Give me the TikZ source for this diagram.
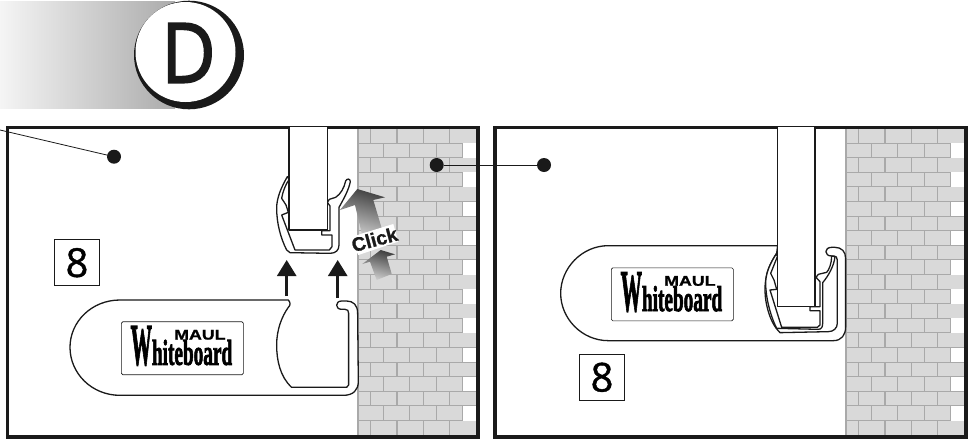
\documentclass[tikz,border=0pt]{standalone}
\usepackage{fontspec}
\usepackage{graphicx}
\setmainfont{Liberation Sans}
\newfontfamily\openf{Open Sans}[RawFeature={embolden=1}]
\newfontfamily\openD{Open Sans}[RawFeature={embolden=2.2}]
\newfontfamily\serifb{Liberation Serif Bold}[RawFeature={embolden=2.5}]
\newfontfamily\sansheavy{Liberation Sans Bold}[RawFeature={embolden=1.2}]
\usetikzlibrary{arrows.meta}
\definecolor{frameblack}{HTML}{1A1A1A}
\definecolor{brickfill}{HTML}{D9D9D9}
\definecolor{brickline}{HTML}{A9A9A9}
\tikzset{
  frameline/.style={draw=frameblack,line width=3.4pt},
  thick outline/.style={draw=frameblack,line width=1.3pt,line join=round,fill=white},
  brickmark/.style={draw=brickline,line width=1.1pt},
  leaderline/.style={draw=frameblack,line width=.8pt},
  dotmark/.style={circle,fill=frameblack,inner sep=0pt,minimum size=14pt},
  upmove/.style={draw=frameblack,line width=2.6pt,-{Triangle[length=16pt,width=19pt]}},
  numberbox/.style={draw=frameblack,line width=1.2pt,fill=white,minimum width=45pt,minimum height=46pt,inner sep=0pt,font=\openf\fontsize{40}{40}\selectfont},
  logobox/.style={draw=frameblack,line width=.7pt,rounded corners=1.5pt,fill=white,minimum width=122pt,minimum height=53pt,inner sep=0pt},
}
\newcommand{\brickwall}[1]{%
  \fill[brickfill] (#1,128.5) rectangle (#1+118,435.5);
  \foreach \r in {0,...,20}{%
    \pgfmathsetmacro{\ya}{128.5+14.6*\r}%
    \pgfmathsetmacro{\yb}{128.5+14.6*(\r+1)}%
    \draw[brickmark] (#1,\yb) -- (#1+118,\yb);
    \pgfmathtruncatemacro{\odd}{mod(\r,2)}%
    \ifnum\odd=0
      \foreach \k in {0,...,3}{\draw[brickmark] (#1+12.7+26.3*\k,\ya) -- (#1+12.7+26.3*\k,\yb);}
    \else
      \fill[white] (#1+105,\ya) rectangle (#1+118,\yb);
      \foreach \k in {0,...,3}{\draw[brickmark] (#1+25.5+26.3*\k,\ya) -- (#1+25.5+26.3*\k,\yb);}
    \fi
  }%
  \draw[brickmark] (#1,128.5) -- (#1,435.5);
}
\newcommand{\wblogo}[3]{%
  \node[logobox,anchor=north west] (#1box) at (#2,#3) {};
  \node[anchor=base west,inner sep=0pt] (#1maul) at (#2+53,#3+18.2)
    {\scalebox{1.27}[1]{\sansheavy\fontsize{14}{14}\selectfont MAUL}};
  \node[anchor=base west,inner sep=0pt] (#1word) at (#2+9.5,#3+43.5)
    {\serifb\scalebox{.36}[1]{\fontsize{59}{59}\selectfont W}\scalebox{.535}[1]{\fontsize{36}{36}\selectfont hiteboard}};
}
\begin{document}
\begin{tikzpicture}[x=1pt,y=-1pt]
\useasboundingbox (0,0) rectangle (972,445);
\fill[white] (0,0) rectangle (972,445);
% header
\shade[left color=black!4,right color=black!33] (0,1) rectangle (175,108);
\fill[frameblack] (189,55) ellipse [x radius=55,y radius=54.3];
\fill[white] (185.5,52) circle [radius=50];
\node[font=\openD\fontsize{83}{83}\selectfont,text=frameblack,inner sep=0pt] (letterD) at (188.5,53) {\scalebox{.9}[1]{D}};
% left panel
\brickwall{358}
\draw[frameline] (7.5,127.5) rectangle (478,437);
\begin{scope}[shift={(270,170)},x=.3333pt,y=-.3333pt]
  \draw[thick outline] (52,20) .. controls (32,55) and (20,85) .. (20,115) .. controls (20,160) and (32,205) .. (50,240) -- (60,248) -- (180,250) .. controls (198,250) and (207,240) .. (207,225) -- (207,112) .. controls (222,85) and (236,60) .. (241,35) .. controls (241,25) and (230,25) .. (227,33) .. controls (222,55) and (212,72) .. (197,82) -- (178,88) -- (172,97) -- (180,108) -- (180,182) -- (155,182) -- (155,195) -- (186,195) -- (186,230) -- (178,240) -- (75,240) -- (35,135) -- (55,127) -- (48,105) -- (35,85) .. controls (38,65) and (48,40) .. (58,28) -- cycle;
  \draw[thick outline] (57,-130) -- (57,180) -- (172,180) -- (172,-130);
\end{scope}
\coordinate (arrowLa) at (286.7,296);
\coordinate (arrowLb) at (286.7,260);
\coordinate (arrowRa) at (337.7,298);
\coordinate (arrowRb) at (337.7,260);
\draw[upmove] (arrowLa) -- (arrowLb);
\draw[upmove] (arrowRa) -- (arrowRb);
\shade[top color=black!75,bottom color=black!22,shading angle=-15] (357.3,189) -- (340,210) -- (355,205) -- (361.7,233.3) -- (381.7,228.3) -- (373.3,200) -- (385,197.3) -- cycle;
\shade[top color=black!75,bottom color=black!18,shading angle=-15] (380.7,250) -- (362.3,264) -- (370,261.7) -- (376.7,280) -- (391.7,274) -- (386.7,256.7) -- (395,254.3) -- cycle;
\fill[white] (350,237.3) -- (393.3,224) -- (398.3,241.6) -- (358.3,255) -- cycle;
\node[rotate=15,font=\sansheavy\fontsize{19.5}{19.5}\selectfont,text=frameblack,inner sep=0pt] (click) at (374.5,239.5) {Click};
\begin{scope}[shift={(60,290)},x=.3333pt,y=-.3333pt]
  \draw[thick outline] (685,30) -- (180,30) .. controls (95,30) and (30,95) .. (30,172) .. controls (30,250) and (95,316) .. (180,316) -- (850,316) .. controls (880,316) and (895,300) .. (895,275) -- (893,70) .. controls (893,45) and (880,33) .. (860,33) -- (845,33) .. controls (825,33) and (825,58) .. (845,58) -- (855,58) .. controls (863,58) and (866,62) .. (866,70) -- (866,285) -- (860,292) -- (695,292) .. controls (660,260) and (650,210) .. (650,165) .. controls (650,120) and (665,80) .. (685,52) .. controls (692,45) and (692,38) .. (685,30) -- cycle;
\end{scope}
\wblogo{left}{121}{321.3}
\node[numberbox] (eightL) at (77,262.7) {8};
% right panel
\brickwall{846}
\draw[frameline] (495,127.5) rectangle (966,437);
\begin{scope}[shift={(550,230)},x=.3333pt,y=-.3333pt]
  \draw[thick outline] (683,47) -- (175,47) .. controls (95,47) and (32,115) .. (32,190) .. controls (32,265) and (95,332) .. (175,332) -- (850,332) .. controls (875,332) and (887,315) .. (887,290) -- (887,85) .. controls (887,65) and (875,52) .. (855,52) -- (845,52) .. controls (822,52) and (822,78) .. (845,78) -- (852,78) .. controls (858,78) and (862,82) .. (862,90) -- (862,280) .. controls (862,295) and (850,305) .. (835,305) -- (690,308) .. controls (660,280) and (645,220) .. (645,180) .. controls (645,130) and (660,100) .. (680,70) -- cycle;
\end{scope}
\begin{scope}[shift={(760,240)},x=.3333pt,y=-.3333pt]
  \draw[thick outline] (50,40) .. controls (30,70) and (17,100) .. (17,130) .. controls (17,170) and (30,225) .. (50,265) -- (175,268) .. controls (185,268) and (188,260) .. (188,250) -- (188,128) .. controls (205,108) and (222,78) .. (225,50) -- (215,48) .. controls (215,70) and (207,90) .. (200,97) -- (175,103) -- (168,112) -- (180,125) -- (180,200) -- (150,200) -- (150,212) -- (180,212) -- (180,255) -- (172,262) -- (65,262) -- (30,150) -- (50,148) -- (42,120) -- (32,100) -- (52,50) -- cycle;
  \draw[thick outline] (52,-340) -- (52,200) -- (165,200) -- (165,-340);
\end{scope}
\wblogo{right}{611}{267.5}
\node[numberbox] (eightR) at (602,377.3) {8};
% callouts
\node[dotmark] (dotA) at (114,156.7) {};
\node[dotmark] (dotB) at (436.7,165) {};
\node[dotmark] (dotC) at (544,165) {};
\coordinate (leaderEnd) at (0,130);
\draw[leaderline] (dotA) -- (leaderEnd);
\draw[leaderline] (dotB) -- (dotC);
\end{tikzpicture}
\end{document}
